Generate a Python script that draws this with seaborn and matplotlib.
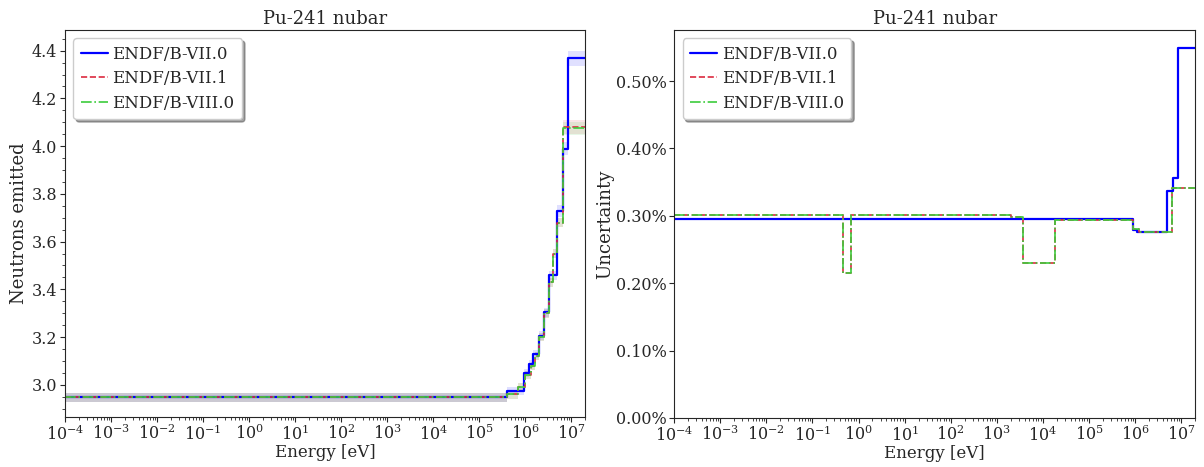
import numpy as np
import pandas as pd
import matplotlib
matplotlib.use("Agg")
import matplotlib.pyplot as plt
import seaborn as sns
from matplotlib.ticker import PercentFormatter, LogLocator, NullFormatter

# --- nubar (left panel), step edges [eV] and values ---
e_nu_b70 = [1e-4, 4.1e5, 9.6e5, 1.2e6, 1.5e6, 1.95e6, 2.5e6, 3.2e6, 5.0e6, 6.6e6, 8.3e6, 2e7]
nu_b70 = [2.947, 2.975, 3.049, 3.087, 3.129, 3.206, 3.304, 3.458, 3.73, 3.99, 4.368]
e_nu_b71 = [1e-4, 4.0e5, 7.0e5, 1.0e6, 1.3e6, 1.6e6, 2.0e6, 2.5e6, 3.2e6, 4.0e6, 5.0e6, 6.5e6, 2e7]
nu_b71 = [2.947, 2.96, 2.99, 3.04, 3.08, 3.12, 3.20, 3.30, 3.43, 3.55, 3.68, 4.08]
e_nu_b80 = e_nu_b71
nu_b80 = [2.947, 2.96, 2.99, 3.04, 3.08, 3.12, 3.20, 3.30, 3.43, 3.55, 3.68, 4.075]

# --- relative uncertainty [%] (right panel) ---
e_unc_b70 = [1e-4, 9.0e5, 1.1e6, 5.0e6, 6.7e6, 8.5e6, 2e7]
unc_b70 = [0.2948, 0.279, 0.276, 0.337, 0.356, 0.549]
e_unc_b71 = [1e-4, 0.45, 0.7, 2.0e3, 3.7e3, 1.8e4, 9.0e5, 1.2e6, 6.5e6, 2e7]
unc_b71 = [0.301, 0.215, 0.301, 0.298, 0.2305, 0.294, 0.280, 0.276, 0.342]
e_unc_b80 = e_unc_b71
unc_b80 = [0.301, 0.215, 0.301, 0.298, 0.2305, 0.294, 0.280, 0.276, 0.342]

libs = ["ENDF/B-VII.0", "ENDF/B-VII.1", "ENDF/B-VIII.0"]
colors = ["#0000ff", "#dc2a40", "#3ccc3c"]
styles = ["-", "--", "-."]
widths = [1.6, 1.2, 1.2]

sns.set_style("ticks")
plt.rcParams["font.family"] = ["DejaVu Serif"]
plt.rcParams["mathtext.fontset"] = "dejavuserif"

fig = plt.figure(figsize=(12.04, 4.67), dpi=100)
ax1 = fig.add_axes([0.054, 0.107, 0.432, 0.829])
ax2 = fig.add_axes([0.560, 0.105, 0.4325, 0.831])


def step_df(edges, vals):
    return pd.DataFrame({"E": edges, "y": list(vals) + [vals[-1]]})


def unc_at(x, edges, vals):
    i = np.searchsorted(edges, x, side="right") - 1
    return vals[min(max(i, 0), len(vals) - 1)]


nu_sets = [(e_nu_b70, nu_b70, unc_b70, e_unc_b70),
           (e_nu_b71, nu_b71, unc_b71, e_unc_b71),
           (e_nu_b80, nu_b80, unc_b80, e_unc_b80)]

for (e_nu, nu, unc, e_unc), lab, c, ls, lw in zip(nu_sets, libs, colors, styles, widths):
    d = step_df(e_nu, nu)
    # 2-sigma band
    u = np.array([unc_at(x, e_unc, unc) for x in d["E"]])
    ax1.fill_between(d["E"], d["y"] * (1 - 2 * u / 100), d["y"] * (1 + 2 * u / 100),
                     step="post", color=c, alpha=0.12, lw=0)
    sns.lineplot(data=d, x="E", y="y", ax=ax1, drawstyle="steps-post",
                 color=c, linestyle=ls, lw=lw, label=lab)

for e_unc, unc, lab, c, ls, lw in zip([e_unc_b70, e_unc_b71, e_unc_b80],
                                     [unc_b70, unc_b71, unc_b80],
                                     libs, colors, styles, widths):
    d = step_df(e_unc, unc)
    sns.lineplot(data=d, x="E", y="y", ax=ax2, drawstyle="steps-post",
                 color=c, linestyle=ls, lw=lw, label=lab)

for ax in (ax1, ax2):
    ax.set_xscale("log")
    ax.set_xlim(1e-4, 2e7)
    ax.set_xticks([10.0 ** k for k in range(-4, 8)])
    ax.xaxis.set_minor_locator(LogLocator(base=10, subs=np.arange(2, 10), numticks=100))
    ax.xaxis.set_minor_formatter(NullFormatter())
    ax.set_xlabel("Energy [eV]", fontsize=12, labelpad=0)
    ax.set_title("Pu-241 nubar", fontsize=13, pad=4)
    ax.tick_params(labelsize=11.5, pad=2)
    ax.legend(loc="upper left", fontsize=12, shadow=True, fancybox=True,
              handlelength=1.6, handletextpad=0.3, borderpad=0.45, labelspacing=0.45,
              framealpha=1)

ax1.set_ylim(2.865, 4.487)
ax1.set_ylabel("Neutrons emitted", fontsize=13, labelpad=3)
ax1.yaxis.set_minor_locator(plt.MultipleLocator(0.05))

ax2.set_ylim(0, 0.576)
ax2.yaxis.set_major_formatter(PercentFormatter(xmax=100, decimals=2))
ax2.set_yticks([0, 0.1, 0.2, 0.3, 0.4, 0.5])
ax2.set_ylabel("Uncertainty", fontsize=13, labelpad=1)

fig.savefig("out.png", dpi=100)
